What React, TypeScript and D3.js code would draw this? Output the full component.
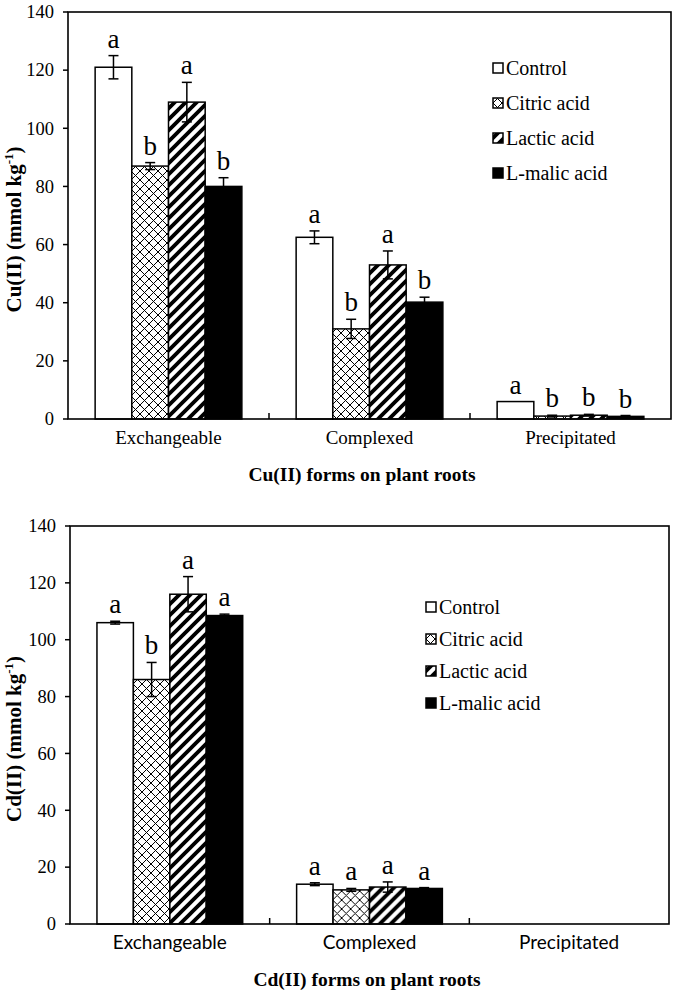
import React from "react";
import * as d3 from "d3";

const categories = ["Exchangeable", "Complexed", "Precipitated"];
const series = ["Control", "Citric acid", "Lactic acid", "L-malic acid"];
const yTicks = [0, 20, 40, 60, 80, 100, 120, 140];

// Cu(II) values [category][series]
const cuValues = [
  [121, 87, 109, 80],
  [62.5, 31, 53, 40.2],
  [6, 1, 1.3, 0.9],
];
const cuErrors = [
  [4, 1.2, 6.8, 3],
  [2.2, 3.3, 4.8, 1.7],
  [0, 0.3, 0.3, 0.3],
];
const cuLetters = [
  ["a", "b", "a", "b"],
  ["a", "b", "a", "b"],
  ["a", "b", "b", "b"],
];

// Cd(II) values
const cdValues = [
  [106, 86, 116, 108.5],
  [14, 12, 13, 12.5],
  [0, 0, 0, 0],
];
const cdErrors = [
  [0.5, 6, 6.2, 0.5],
  [0.5, 0.5, 1.8, 0.3],
  [0, 0, 0, 0],
];
const cdLetters = [
  ["a", "b", "a", "a"],
  ["a", "a", "a", "a"],
  ["", "", "", ""],
];

const SERIF = "'Liberation Serif', 'Times New Roman', serif";
const SANS = "Lato, 'Liberation Sans', sans-serif";

const fills = ["#ffffff", "url(#xhatch)", "url(#stripes)", "#000000"];

type PanelProps = {
  left: number;
  right: number;
  top: number;
  bottom: number;
  values: number[][];
  errors: number[][];
  letters: string[][];
  yTitle: string;
  xTitle: string;
  catFont: string;
  legendX: number;
  legendY: number;
  legendGap: number;
  xTitleX: number;
};

function Panel(p: PanelProps) {
  const y = d3.scaleLinear().domain([0, 140]).range([p.bottom, p.top]);
  const x0 = d3.scaleBand<string>().domain(categories).range([p.left, p.right]);
  const bw = x0.bandwidth();
  const x1 = d3
    .scaleBand<string>()
    .domain(series)
    .range([bw * 0.135, bw * 0.865]);
  const midY = (p.top + p.bottom) / 2 + 14;
  return (
    <g>
      {/* bars */}
      {categories.map((c, ci) => (
        <g key={c} transform={`translate(${x0(c)},0)`}>
          {series.map((s, si) => {
            const v = p.values[ci][si];
            if (v <= 0) return null;
            const bx = x1(s)!;
            return (
              <rect
                key={s}
                x={bx}
                y={y(v)}
                width={x1.bandwidth()}
                height={y(0) - y(v)}
                fill={fills[si]}
                stroke="#000"
                strokeWidth={1.5}
              />
            );
          })}
          {series.map((s, si) => {
            const v = p.values[ci][si];
            const e = p.errors[ci][si];
            if (v <= 0 || e <= 0) return null;
            const cx = x1(s)! + x1.bandwidth() / 2;
            return (
              <g key={s + "e"} stroke="#000" strokeWidth={1.5}>
                <line x1={cx} x2={cx} y1={y(v + e)} y2={y(v - e)} />
                <line x1={cx - 5} x2={cx + 5} y1={y(v + e)} y2={y(v + e)} />
                <line x1={cx - 5} x2={cx + 5} y1={y(v - e)} y2={y(v - e)} />
              </g>
            );
          })}
          {series.map((s, si) => {
            const t = p.letters[ci][si];
            if (!t) return null;
            const v = p.values[ci][si] + p.errors[ci][si];
            const cx = x1(s)! + x1.bandwidth() / 2;
            return (
              <text
                key={s + "l"}
                x={cx}
                y={y(v) - 8}
                textAnchor="middle"
                fontFamily={SERIF}
                fontSize={27}
              >
                {t}
              </text>
            );
          })}
        </g>
      ))}
      {/* frame */}
      <rect
        x={p.left}
        y={p.top}
        width={p.right - p.left}
        height={p.bottom - p.top}
        fill="none"
        stroke="#000"
        strokeWidth={1.6}
      />
      {/* y ticks */}
      {yTicks.map((t) => (
        <g key={t}>
          <line x1={p.left - 5} x2={p.left} y1={y(t)} y2={y(t)} stroke="#000" strokeWidth={1.5} />
          <text
            x={p.left - 14}
            y={y(t)}
            dy="0.34em"
            textAnchor="end"
            fontFamily={SERIF}
            fontSize={18.5}
          >
            {t}
          </text>
        </g>
      ))}
      {/* category boundary ticks */}
      {categories.slice(1).map((c) => (
        <line
          key={c}
          x1={x0(c)}
          x2={x0(c)}
          y1={p.bottom}
          y2={p.bottom - 6}
          stroke="#000"
          strokeWidth={1.5}
        />
      ))}
      {/* category labels */}
      {categories.map((c) => (
        <text
          key={c + "t"}
          x={x0(c)! + bw / 2}
          y={p.bottom + 25}
          textAnchor="middle"
          fontFamily={p.catFont}
          fontSize={19}
        >
          {c}
        </text>
      ))}
      {/* x title */}
      <text
        x={p.xTitleX}
        y={p.bottom + 62}
        textAnchor="middle"
        fontFamily={SERIF}
        fontWeight="bold"
        fontSize={19.5}
      >
        {p.xTitle}
      </text>
      {/* y title */}
      <text
        transform={`translate(21,${midY}) rotate(-90)`}
        textAnchor="middle"
        fontFamily={SERIF}
        fontWeight="bold"
        fontSize={21}
      >
        {p.yTitle}
        <tspan dy={-8} fontSize={13}>-1</tspan>
        <tspan dy={8}>)</tspan>
      </text>
      {/* legend */}
      {series.map((s, si) => (
        <g key={s + "lg"} transform={`translate(${p.legendX},${p.legendY + si * p.legendGap})`}>
          <rect x={0} y={-5} width={10} height={10} fill={fills[si]} stroke="#000" strokeWidth={1.5} />
          <text x={13} y={0} dy="0.35em" fontFamily={SERIF} fontSize={20}>
            {s}
          </text>
        </g>
      ))}
    </g>
  );
}

export default function App() {
  return (
    <svg
      width={675}
      height={995}
      style={{ position: "absolute", left: 0, top: 0, background: "#fff" }}
    >
      <defs>
        <pattern id="xhatch" patternUnits="userSpaceOnUse" width={9} height={9}>
          <rect width={9} height={9} fill="#fff" />
          <path d="M0,0L9,9M9,0L0,9" stroke="#000" strokeWidth={1} />
        </pattern>
        <pattern id="stripes" patternUnits="userSpaceOnUse" width={11} height={11}>
          <rect width={11} height={11} fill="#fff" />
          <path d="M-1,12L12,-1M-3,3L3,-3M8,14L14,8" stroke="#000" strokeWidth={3.8} />
        </pattern>
      </defs>
      <rect width={675} height={995} fill="#fff" />
      <Panel
        left={68}
        right={671}
        top={12}
        bottom={419}
        values={cuValues}
        errors={cuErrors}
        letters={cuLetters}
        yTitle="Cu(II) (mmol kg"
        xTitle="Cu(II) forms on plant roots"
        catFont={SERIF}
        legendX={493}
        legendY={68}
        legendGap={35}
        xTitleX={362}
      />
      <Panel
        left={70}
        right={669}
        top={526}
        bottom={924}
        values={cdValues}
        errors={cdErrors}
        letters={cdLetters}
        yTitle="Cd(II) (mmol kg"
        xTitle="Cd(II) forms on plant roots"
        catFont={SANS}
        legendX={426}
        legendY={607}
        legendGap={32}
        xTitleX={367}
      />
    </svg>
  );
}
